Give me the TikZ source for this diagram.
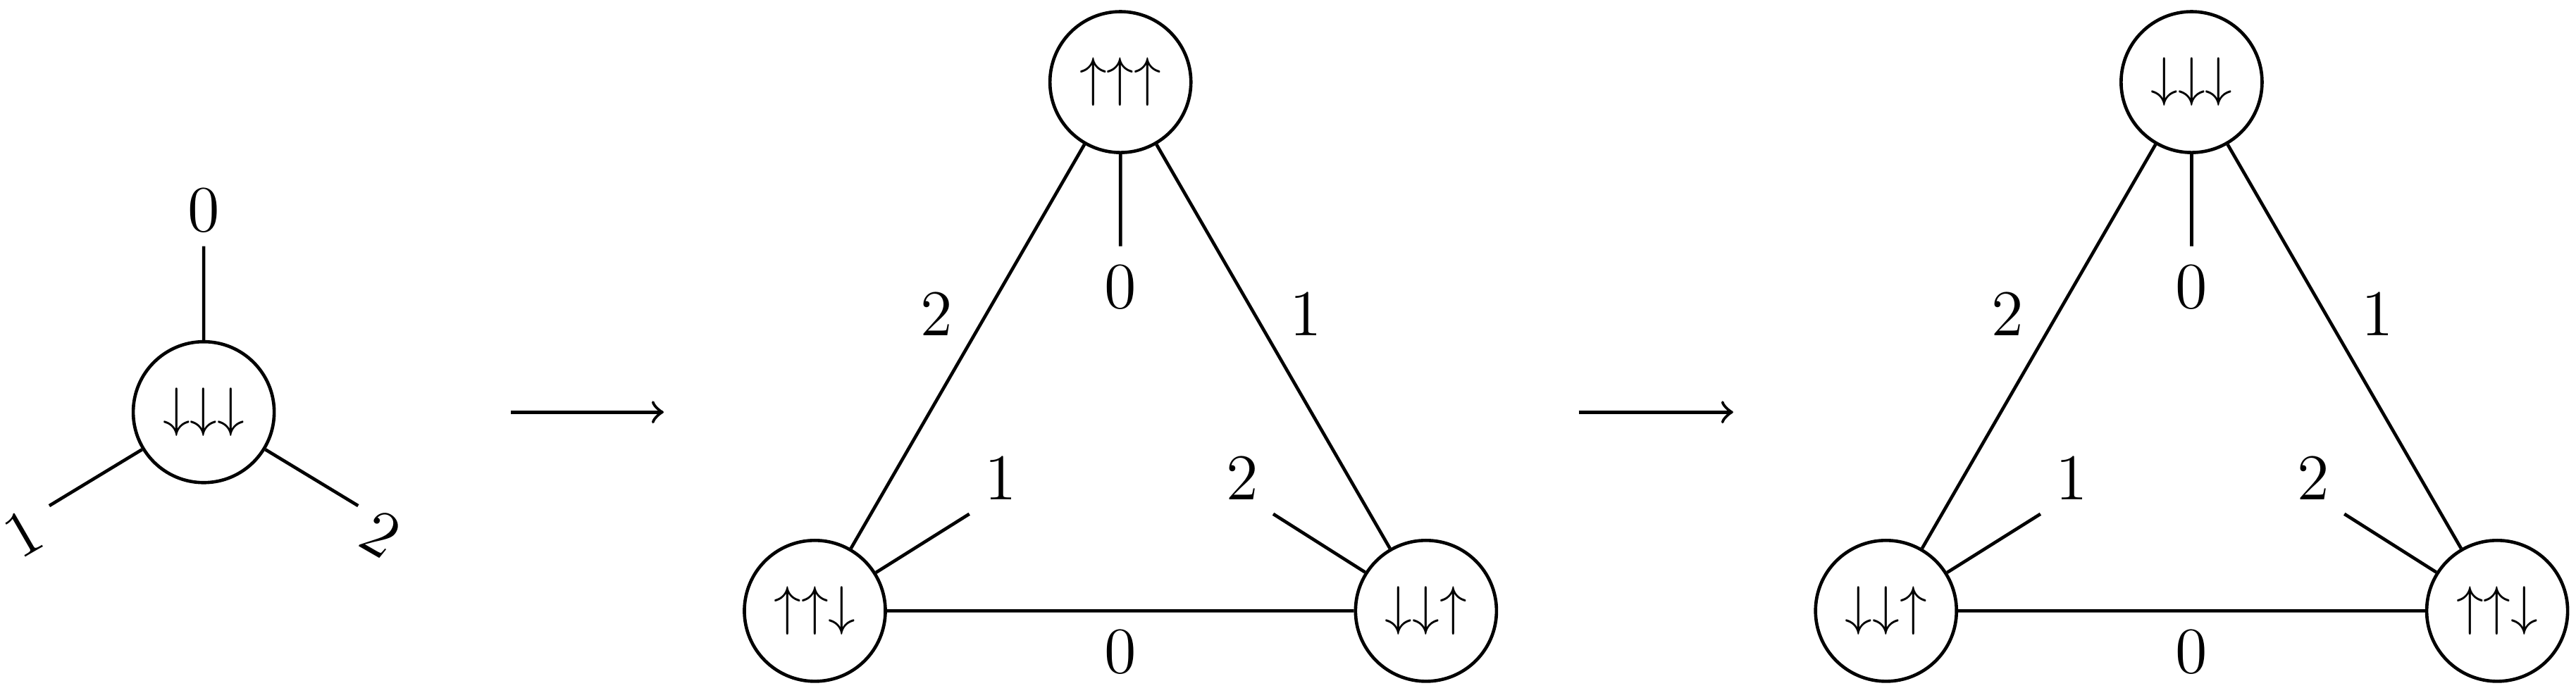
\documentclass[tikz,border=0pt]{standalone}
\usetikzlibrary{positioning}

\begin{document}
\begin{tikzpicture}[%
    x=0.0106cm, y=-0.0106cm,   % Work in pixel units of the sketch
    line width=0.6pt,
    ]
% -------------------------------------------------
\tikzset{
  spin/.style={draw, circle, minimum size=0.91cm, inner sep=0pt},
  lab/.style={font=\large},
}
\useasboundingbox (0,0) rectangle (1568,422);
% -------------------------------------------------
% Single vertex
\node [spin] (v) at (124,251) {$\downarrow\downarrow\downarrow$};
\coordinate (v0) at (124,150);
\coordinate (v1) at (30,308);
\coordinate (v2) at (218,308);
\draw (v) -- (v0) (v) -- (v1) (v) -- (v2);
\node [lab] at (124,128) {0};
\node [lab, rotate=30] at (14,325) {1};
\node [lab, rotate=-30] at (232,325) {2};

\coordinate (a1) at (311,251);
\coordinate (b1) at (404,251);
\draw [->] (a1) -- (b1);
\coordinate (a2) at (961,251);
\coordinate (b2) at (1055,251);
\draw [->] (a2) -- (b2);

% -------------------------------------------------
% Two triangles
\foreach \dx/\top/\left/\right/\n in {%
    0/{\uparrow\uparrow\uparrow}/{\uparrow\uparrow\downarrow}/{\downarrow\downarrow\uparrow}/m,
    652/{\downarrow\downarrow\downarrow}/{\downarrow\downarrow\uparrow}/{\uparrow\uparrow\downarrow}/r} {
  \node [spin] (\n t) at (682+\dx,50) {$\top$};
  \node [spin] (\n l) at (496+\dx,372) {$\left$};
  \node [spin] (\n r) at (868+\dx,372) {$\right$};
  \draw (\n t) -- (\n l) (\n t) -- (\n r) (\n l) -- (\n r);
  \node [lab] at (570+\dx,191) {2};
  \node [lab] at (795+\dx,191) {1};
  \node [lab] at (682+\dx,397) {0};
  \coordinate (\n s0) at (682+\dx,150);
  \coordinate (\n s1) at (590+\dx,313);
  \coordinate (\n s2) at (775+\dx,313);
  \draw (\n t) -- (\n s0) (\n l) -- (\n s1) (\n r) -- (\n s2);
  \node [lab] at (682+\dx,175) {0};
  \node [lab] at (609+\dx,291) {1};
  \node [lab] at (756+\dx,291) {2};
}
% -------------------------------------------------
\end{tikzpicture}
\end{document}
